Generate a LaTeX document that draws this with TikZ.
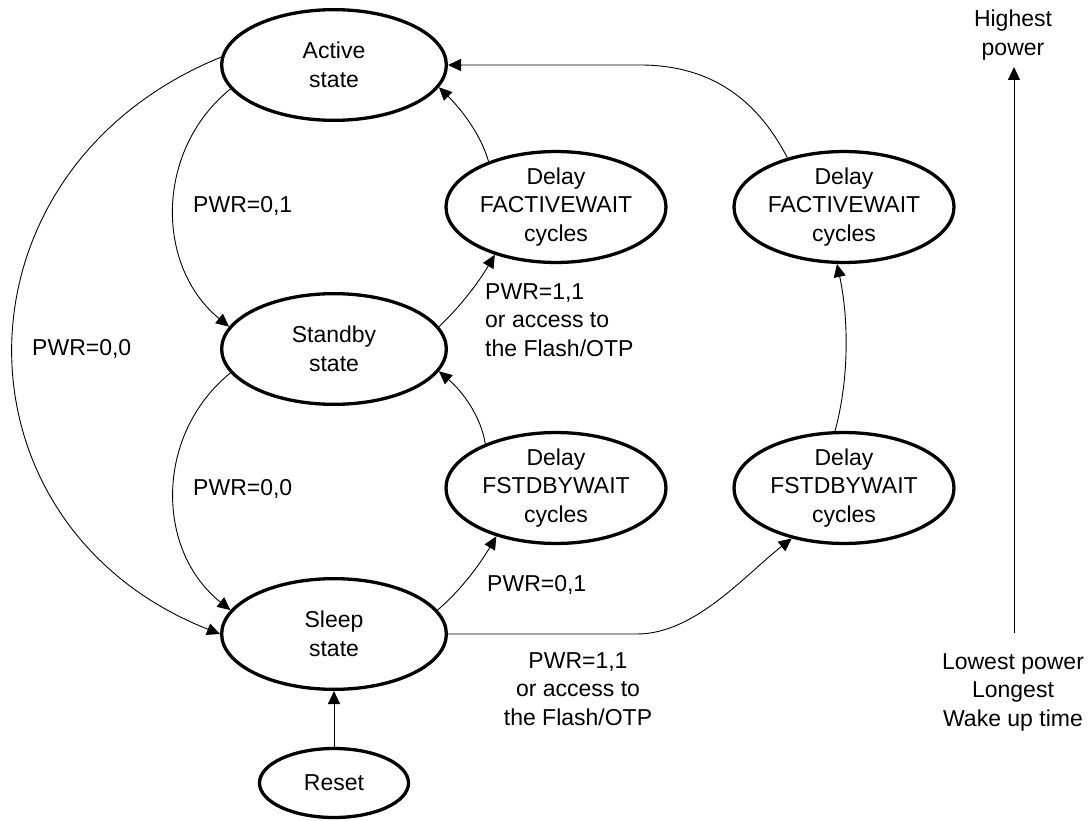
\documentclass[tikz,border=0pt]{standalone}
\usepackage{fontspec}
\setmainfont{Liberation Sans}
\usetikzlibrary{shapes.geometric,arrows.meta}
\begin{document}
\begin{tikzpicture}[x=1pt,y=-1pt,
  txt/.style={font=\fontsize{23}{28.5}\selectfont},
  stnode/.style={ellipse, draw, line width=3.3pt, minimum width=224.7pt, minimum height=110.7pt, inner sep=0pt, align=center, txt},
  dlnode/.style={stnode, minimum width=220pt, minimum height=108pt},
  rsnode/.style={stnode, minimum width=149pt, minimum height=69pt},
  conn/.style={line width=0.9pt, -{Triangle[length=13pt,width=12pt]}},
  lbl/.style={inner sep=0pt, txt}]
\useasboundingbox (0,0) rectangle (1090,821);
\fill[white] (0,0) rectangle (1090,821);

% states
\node[stnode] (act) at (334,65) {Active\\state};
\node[stnode] (stb) at (334,349) {Standby\\state};
\node[stnode] (slp) at (334,634) {Sleep\\state};
\node[rsnode] (rst) at (334,783) {Reset};
\node[dlnode] (fa1) at (556,207) {Delay\\FACTIVEWAIT\\cycles};
\node[dlnode] (fs1) at (556,488) {Delay\\FSTDBYWAIT\\cycles};
\node[dlnode] (fa2) at (844,207) {Delay\\FACTIVEWAIT\\cycles};
\node[dlnode] (fs2) at (844,488) {Delay\\FSTDBYWAIT\\cycles};

% labels
\node[lbl, anchor=west] (l01a) at (193,206) {PWR=0,1};
\node[lbl, anchor=west] (l00a) at (193,489) {PWR=0,0};
\node[lbl, anchor=west] (l00b) at (32,349) {PWR=0,0};
\node[lbl, anchor=north west, align=left] (l11a) at (485,283) {PWR=1,1\\or access to\\the Flash/OTP};
\node[lbl, anchor=west] (l01b) at (487,585) {PWR=0,1};
\node[lbl, anchor=north, align=center] (l11b) at (578,652) {PWR=1,1\\or access to\\the Flash/OTP};
\node[lbl, anchor=north, align=center] (hp) at (1013,10) {Highest\\power};
\node[lbl, anchor=north, align=center] (lp) at (1013,653) {Lowest power\\Longest\\Wake up time};

% connectors
\draw[conn] (act.193) .. controls (155,150) and (155,266) .. (stb.168);
\draw[conn] (stb.193) .. controls (155,434) and (155,550) .. (slp.167);
\draw[conn] (act.176) .. controls (-56,170) and (-56,525) .. (slp.180);
\draw[conn] (stb.12) .. controls (462,305) and (480,280) .. (fa1.218);
\draw[conn] (slp.13) .. controls (462,589) and (480,564) .. (fs1.219);
\draw[conn] (fa1.146) .. controls (481,135) and (462,110) .. (act.348);
\draw[conn] (fs1.148) .. controls (481,416) and (462,391) .. (stb.348);
\draw[conn] (slp.east) -- (637,634) .. controls (695,634) and (745,575) .. (fs2.224);
\draw[conn] (fs2.99) .. controls (849,380) and (849,320) .. (fa2.263);
\draw[conn] (fa2.139) .. controls (765,115) and (725,65) .. (640,65) -- (act.east);
\draw[conn] (rst.north) -- (slp.south);

% power axis
\coordinate (pbot) at (1014,633);
\coordinate (ptop) at (1014,67);
\draw[conn] (pbot) -- (ptop);
\end{tikzpicture}
\end{document}
